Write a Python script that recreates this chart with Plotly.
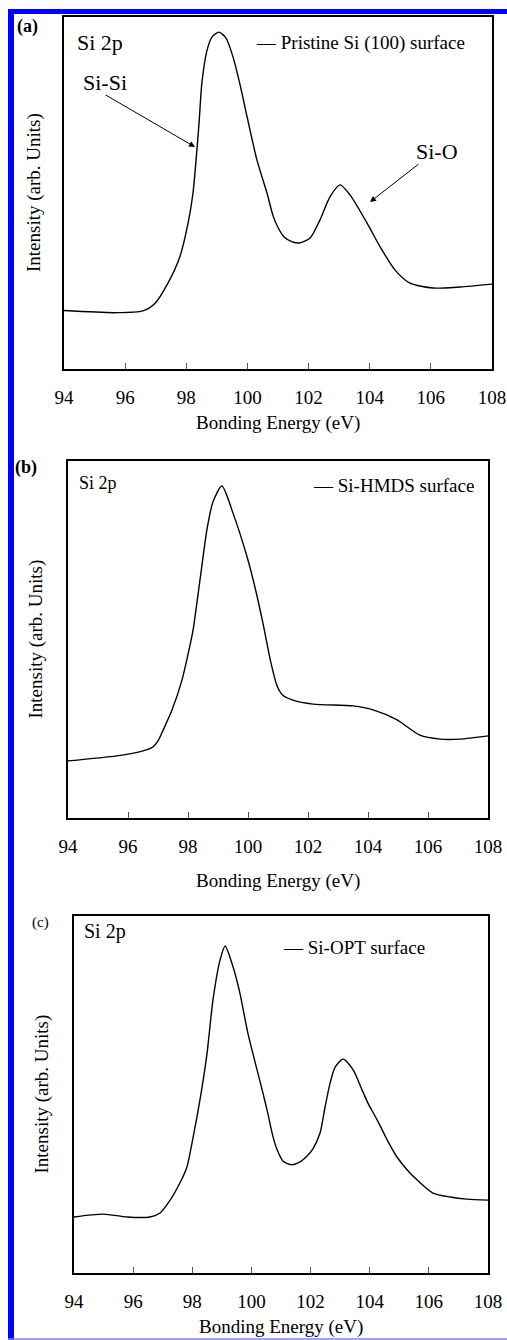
import plotly.graph_objects as go

W, H = 507, 1340
FONT = "Liberation Serif, Times New Roman, serif"

# ---------------- data (binding energy in eV, intensity in arbitrary units) ----------------
energy_a = [94.0, 95.67, 96.58, 96.98, 97.40, 97.79, 98.06, 98.22, 98.32, 98.42, 98.51, 98.68,
            98.84, 99.07, 99.30, 99.53, 99.76, 99.99, 100.31, 100.64, 100.84, 101.0, 101.2,
            101.45, 101.7, 102.05, 102.37, 102.70, 103.03, 103.36, 103.91, 104.34, 104.83,
            105.32, 106.07, 106.95, 108.0]
intensity_a = [16.6, 16.0, 16.5, 18.7, 24.4, 31.9, 41.5, 50.0, 59.4, 70.2, 81.3, 90.6,
               94.3, 95.7, 94.0, 88.6, 80.7, 71.6, 59.4, 50.0, 43.5, 40.2, 37.5,
               36.2, 35.8, 37.2, 42.3, 48.9, 52.3, 49.4, 41.5, 34.7, 28.1,
               24.4, 23.0, 23.3, 24.1]

energy_b = [94.0, 95.63, 96.5, 96.83, 97.0, 97.17, 97.47, 97.8, 98.07, 98.17, 98.4, 98.63,
            98.83, 99.13, 99.5, 99.97, 100.23, 100.5, 100.75, 100.97, 101.17, 101.5, 102.17,
            103.5, 104.17, 104.97, 105.73, 106.4, 107.07, 108.0]
intensity_b = [16.0, 17.4, 18.8, 19.9, 21.6, 24.6, 30.3, 38.7, 48.5, 52.7, 66.7, 80.7,
               88.5, 93.0, 85.4, 73.1, 64.7, 54.5, 44.0, 37.0, 34.3, 33.0, 31.9,
               31.4, 30.3, 27.5, 23.2, 22.1, 22.1, 23.0]

energy_c = [94.0, 94.98, 95.79, 96.57, 96.91, 97.25, 97.58, 97.82, 97.99, 98.14, 98.32,
            98.50, 98.70, 98.94, 99.11, 99.38, 99.61, 99.88, 100.19, 100.39, 100.56, 100.72,
            100.87, 101.07, 101.37, 101.64, 101.88, 102.08, 102.32, 102.49, 102.66, 102.83,
            103.10, 103.44, 103.74, 103.94, 104.25, 104.59, 104.92, 105.36, 105.60, 106.14,
            106.72, 107.29, 108.0]
intensity_c = [15.7, 16.5, 15.7, 15.7, 16.8, 20.4, 25.2, 29.7, 36.4, 42.9, 51.5,
               61.6, 76.5, 87.7, 91.6, 85.7, 78.4, 67.2, 56.9, 50.4, 44.5, 38.5,
               34.5, 31.3, 30.3, 31.1, 32.8, 34.8, 39.2, 46.5, 53.2, 57.7,
               59.9, 56.9, 51.3, 47.6, 42.9, 37.3, 32.5, 28.0, 26.1, 22.4,
               21.3, 20.7, 20.4]

series_names = ["Pristine Si (100) surface", "Si-HMDS surface", "Si-OPT surface"]
panel_labels = ["(a)", "(b)", "(c)"]
x_ticks = [94, 96, 98, 100, 102, 104, 106, 108]
x_title = "Bonding Energy (eV)"
y_title = "Intensity (arb. Units)"


def px(x):
    return x / W


def py(y):
    return 1 - y / H


# plot boxes in pixels: left, right, top, bottom
boxes = [(64, 492, 17, 369), (68, 488, 461, 818), (74, 488, 916, 1273)]
data = [(energy_a, intensity_a), (energy_b, intensity_b), (energy_c, intensity_c)]

fig = go.Figure()
layout = dict(
    width=W, height=H, autosize=False,
    margin=dict(l=0, r=0, t=0, b=0, pad=0, autoexpand=False),
    paper_bgcolor="white", plot_bgcolor="white", showlegend=False,
    font=dict(family=FONT, color="black"),
)
annotations = []

for i, ((E, I), (l, r, t, b), name) in enumerate(zip(data, boxes, series_names)):
    sfx = "" if i == 0 else str(i + 1)
    fig.add_trace(go.Scatter(
        x=E, y=I, mode="lines", name=name,
        line=dict(color="black", width=1.4, shape="spline", smoothing=0.7),
        xaxis="x" + sfx, yaxis="y" + sfx,
    ))
    layout["xaxis" + sfx] = dict(
        domain=[px(l), px(r)], anchor="y" + sfx, range=[94, 108],
        tickvals=x_ticks, ticks="inside", ticklen=6, tickwidth=1, tickcolor="#555",
        showline=True, linecolor="black", linewidth=2, mirror=True,
        showgrid=False, zeroline=False, automargin=False,
        tickfont=dict(family=FONT, size=19, color="black"), ticklabelstandoff=10,
    )
    layout["yaxis" + sfx] = dict(
        domain=[py(b), py(t)], anchor="x" + sfx, range=[0, 100],
        showticklabels=False, ticks="", automargin=False,
        showline=True, linecolor="black", linewidth=2, mirror=True,
        showgrid=False, zeroline=False,
    )
    # x title
    annotations.append(dict(text=x_title, xref="paper", yref="paper",
                            x=px((l + r) / 2), y=py([423, 881, 1327][i]),
                            showarrow=False, font=dict(size=19),
                            xanchor="center", yanchor="middle"))
    # y title
    annotations.append(dict(text=y_title, xref="paper", yref="paper",
                            x=px([34, 35, 41][i]), y=py((t + b) / 2), textangle=-90,
                            showarrow=False, font=dict(size=19),
                            xanchor="center", yanchor="middle"))

# panel labels
for lab, (xx, yy, bold, sz) in zip(panel_labels, [(27, 27, True, 18), (26, 467, True, 18), (40, 922, False, 15)]):
    annotations.append(dict(text=f"<b>{lab}</b>" if bold else lab, xref="paper", yref="paper",
                            x=px(xx), y=py(yy), showarrow=False, font=dict(size=sz),
                            xanchor="center", yanchor="middle"))

# "Si 2p" labels
for (xx, yy, sz) in [(75, 43, 22), (77, 483, 18), (82, 931, 20)]:
    annotations.append(dict(text="Si 2p", xref="paper", yref="paper", x=px(xx), y=py(yy),
                            showarrow=False, font=dict(size=sz), xanchor="left", yanchor="middle"))

# series keys
for name, (xx, yy, sz) in zip(series_names, [(254, 43, 19), (311, 485, 19), (281, 947, 19)]):
    annotations.append(dict(text="\u2014 " + name, xref="paper", yref="paper", x=px(xx), y=py(yy),
                            showarrow=False, font=dict(size=sz), xanchor="left", yanchor="middle"))

# peak labels with arrows (panel a)
annotations.append(dict(text="Si-Si", xref="paper", yref="paper", x=px(105), y=py(83),
                        showarrow=False, font=dict(size=22), xanchor="center", yanchor="middle"))
annotations.append(dict(text="", xref="paper", yref="paper", x=px(195), y=py(147),
                        ax=-91, ay=-53, showarrow=True, arrowhead=2, arrowsize=1.2,
                        arrowwidth=1, arrowcolor="black"))
annotations.append(dict(text="Si-O", xref="paper", yref="paper", x=px(437), y=py(151),
                        showarrow=False, font=dict(size=22), xanchor="center", yanchor="middle"))
annotations.append(dict(text="", xref="paper", yref="paper", x=px(370), y=py(202),
                        ax=50, ay=-39, showarrow=True, arrowhead=2, arrowsize=1.2,
                        arrowwidth=1, arrowcolor="black"))

layout["annotations"] = annotations

# blue page frame
layout["shapes"] = [
    dict(type="rect", xref="paper", yref="paper", x0=px(8), x1=px(14), y0=py(1340), y1=py(9),
         fillcolor="#0000ff", line=dict(width=0), layer="above"),
    dict(type="rect", xref="paper", yref="paper", x0=px(8), x1=px(507), y0=py(14), y1=py(9),
         fillcolor="#0000ff", line=dict(width=0), layer="above"),
    dict(type="line", xref="paper", yref="paper", x0=px(8), x1=px(507), y0=py(1339), y1=py(1339),
         line=dict(color="#8080ff", width=1.5), layer="above"),
]

fig.update_layout(**layout)
fig.write_html("out.html")
